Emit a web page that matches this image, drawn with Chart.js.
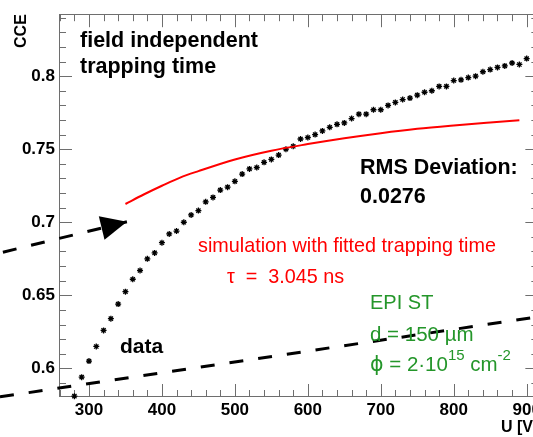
<!DOCTYPE html>
<html><head><meta charset="utf-8">
<script src="https://cdn.jsdelivr.net/npm/chart.js@4/dist/chart.umd.min.js"></script>
<style>html,body{margin:0;padding:0;background:#fff;overflow:hidden}#wrap{width:545px;height:437px;position:relative}</style>
</head><body><div id="wrap"><canvas id="c" width="545" height="437"></canvas></div>
<script>
// ---- data ----
const voltages = [280,290,300,310,320,330,340,350,360,370,380,390,400,410,420,430,440,450,460,470,480,490,500,510,520,530,540,550,560,570,580,590,600,610,620,630,640,650,660,670,680,690,700,710,720,730,740,750,760,770,780,790,800,810,820,830,840,850,860,870,880,890,900];
const cceData = [0.581,0.594,0.605,0.615,0.626,0.634,0.644,0.6525,0.661,0.667,
                 0.675,0.679,0.686,0.692,0.694,0.700,0.705,0.708,0.714,0.717,
                 0.722,0.724,0.728,0.733,0.7365,0.7375,0.741,0.743,0.746,0.750,
                 0.752,0.757,0.758,0.760,0.7625,0.765,0.767,0.768,0.771,0.774,
                 0.774,0.777,0.777,0.780,0.782,0.784,0.785,0.787,0.789,0.790,
                 0.793,0.793,0.797,0.7975,0.799,0.800,0.803,0.8045,0.806,0.807,
                 0.809,0.808,0.812];
const simVoltages = [350,375,400,425,450,500,550,600,650,700,750,800,850,890];
const simCCE = [0.7125,0.7190,0.7250,0.7306,0.7350,0.7430,0.7490,0.7535,0.7575,0.7610,0.7640,0.7663,0.7683,0.7698];
const xTicks = [300,400,500,600,700,800,900];
const yTicks = [0.6,0.65,0.7,0.75,0.8];
const xRange = [258.9, 916];
const yRange = [0.5811, 0.8424];
// annotation lines (in data units)
const dashLineX = [178, 916];
const dashLineY = [0.5805, 0.6353];
const arrowX = [182, 352];
const arrowY = [0.6795, 0.7003];

const FONT = '"Liberation Sans", Arial, Helvetica, sans-serif';

const framePlugin = {
  id: 'frame',
  beforeDatasetsDraw(chart) {
    const ctx = chart.ctx, ca = chart.chartArea, xs = chart.scales.x, ys = chart.scales.y;
    ctx.save();
    ctx.strokeStyle = '#6e6e6e';
    ctx.lineWidth = 1;
    ctx.strokeRect(Math.round(ca.left) + 0.5, Math.round(ca.top) + 0.5, Math.round(ca.right - ca.left), Math.round(ca.bottom - ca.top));
    ctx.beginPath();
    for (let k = 13; k <= 46; k++) {
      const v = k * 20;
      if (v < xRange[0] || v > xRange[1]) continue;
      const px = Math.round(xs.getPixelForValue(v)) + 0.5;
      const len = (v % 100 === 0) ? 12 : 6;
      ctx.moveTo(px, ca.bottom); ctx.lineTo(px, ca.bottom - len);
      ctx.moveTo(px, ca.top); ctx.lineTo(px, ca.top + len + 1);
    }
    for (let k = 59; k <= 84; k++) {
      const v = k / 100;
      if (v < yRange[0] || v > yRange[1]) continue;
      const py = Math.round(ys.getPixelForValue(v)) + 0.5;
      const len = (k % 5 === 0) ? 13 : 7;
      ctx.moveTo(ca.left, py); ctx.lineTo(ca.left + len, py);
      ctx.moveTo(ca.right, py); ctx.lineTo(ca.right - len, py);
    }
    ctx.stroke();
    ctx.restore();
  }
};

const GREEN = '#24962a';
const texts = [
  {t: 'field independent', x: 80, y: 47, font: 'bold 21.5px ' + FONT, c: '#000'},
  {t: 'trapping time', x: 80, y: 73, font: 'bold 21.5px ' + FONT, c: '#000'},
  {t: 'RMS Deviation:', x: 360, y: 174, font: 'bold 21.5px ' + FONT, c: '#000'},
  {t: '0.0276', x: 360, y: 203, font: 'bold 21.5px ' + FONT, c: '#000'},
  {t: 'simulation with fitted trapping time', x: 198, y: 252, font: '19.8px ' + FONT, c: '#ff0000'},
  {t: '\u03c4  =  3.045 ns', x: 227, y: 283, font: '19.8px ' + FONT, c: '#ff0000'},
  {t: 'data', x: 120, y: 353, font: 'bold 21px ' + FONT, c: '#000'},
  {t: 'EPI ST', x: 370, y: 309, font: '20px ' + FONT, c: GREEN},
  {t: 'd = 150 \u00b5m', x: 370, y: 341, font: '20.5px ' + FONT, c: GREEN}
];

const textPlugin = {
  id: 'texts',
  afterDraw(chart) {
    const ctx = chart.ctx;
    ctx.save();
    ctx.textBaseline = 'alphabetic';
    ctx.textAlign = 'left';
    texts.forEach(o => { ctx.font = o.font; ctx.fillStyle = o.c; ctx.fillText(o.t, o.x, o.y); });
    // phi line with superscripts
    ctx.fillStyle = GREEN;
    let x = 370, y = 371;
    const seg = (s, sup, fam) => {
      ctx.font = (sup ? '15px ' : '20.5px ') + (fam || FONT);
      ctx.fillText(s, x, sup ? y - 11 : y);
      x += ctx.measureText(s).width;
    };
    seg('\u03d5', false, '"DejaVu Sans", sans-serif'); seg(' = 2\u00b710'); seg('15', true); seg(' cm'); seg('-2', true);
    ctx.restore();
  },
  afterDatasetsDraw(chart) {
    // arrow head at end of arrow dataset
    const ctx = chart.ctx, xs = chart.scales.x, ys = chart.scales.y;
    const x0 = xs.getPixelForValue(arrowX[0]), y0 = ys.getPixelForValue(arrowY[0]);
    const x1 = xs.getPixelForValue(arrowX[1]), y1 = ys.getPixelForValue(arrowY[1]);
    const a = Math.atan2(y1 - y0, x1 - x0);
    const L = 26, W = 12;
    const bx = x1 - L * Math.cos(a), by = y1 - L * Math.sin(a);
    ctx.save();
    ctx.fillStyle = '#000';
    ctx.beginPath();
    ctx.moveTo(x1, y1);
    ctx.lineTo(bx + W * Math.sin(a), by - W * Math.cos(a));
    ctx.lineTo(bx - W * Math.sin(a), by + W * Math.cos(a));
    ctx.closePath();
    ctx.fill();
    ctx.restore();
  }
};

new Chart(document.getElementById('c'), {
  type: 'scatter',
  data: {
    datasets: [
      {label: 'dash', data: dashLineX.map((v, i) => ({x: v, y: dashLineY[i]})), showLine: true,
       borderColor: '#000', borderWidth: 3, borderDash: [14, 15], pointRadius: 0, clip: false},
      {label: 'arrow', data: arrowX.map((v, i) => ({x: v, y: arrowY[i]})), showLine: true,
       borderColor: '#000', borderWidth: 3, borderDash: [14, 15], pointRadius: 0, clip: false},
      {label: 'simulation', data: simVoltages.map((v, i) => ({x: v, y: simCCE[i]})), showLine: true,
       borderColor: '#ff0000', borderWidth: 2, pointRadius: 0, cubicInterpolationMode: 'monotone'},
      {label: 'data', data: voltages.map((v, i) => ({x: v, y: cceData[i]})), showLine: false,
       pointStyle: 'star', pointRadius: 3, borderColor: '#000', backgroundColor: '#000', borderWidth: 1.3, clip: false}
    ]
  },
  options: {
    responsive: false,
    animation: false,
    devicePixelRatio: 1,
    layout: {padding: {top: 8, right: 6, left: 0, bottom: 0}},
    plugins: {legend: {display: false}, tooltip: {enabled: false}},
    scales: {
      x: {
        type: 'linear', min: xRange[0], max: xRange[1],
        grid: {display: false, drawTicks: false}, border: {display: false},
        afterBuildTicks: s => { s.ticks = xTicks.map(v => ({value: v})); },
        afterFit: s => { s.height = 41; },
        ticks: {color: '#000', font: {family: FONT, size: 17, weight: 'bold'}, padding: 4, maxRotation: 0,
                callback: v => String(v)},
        title: {display: true, text: 'U [V]', align: 'end', color: '#000', padding: 0,
                font: {family: FONT, size: 16, weight: 'bold'}}
      },
      y: {
        type: 'linear', min: yRange[0], max: yRange[1],
        grid: {display: false, drawTicks: false}, border: {display: false},
        afterBuildTicks: s => { s.ticks = yTicks.map(v => ({value: v})); },
        afterFit: s => { s.width = 59; },
        ticks: {color: '#000', font: {family: FONT, size: 17, weight: 'bold'}, padding: 4,
                callback: v => String(v)},
        title: {display: true, text: 'CCE', align: 'end', color: '#000', padding: {top: 12, bottom: 0},
                font: {family: FONT, size: 16, weight: 'bold'}}
      }
    }
  },
  plugins: [framePlugin, textPlugin]
});
</script></body></html>
